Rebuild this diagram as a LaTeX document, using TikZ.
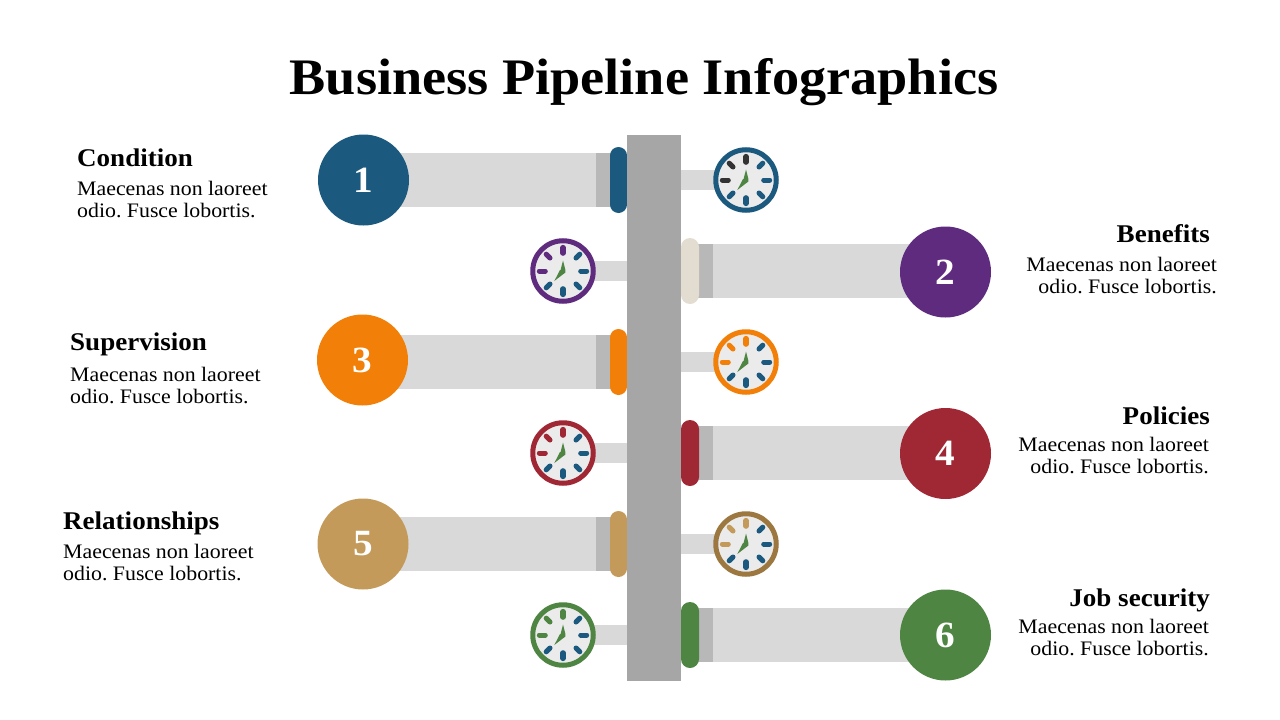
\documentclass[tikz,border=0pt]{standalone}
\usepackage{fontspec}
\setmainfont[FakeStretch=1.06]{Liberation Serif}
\definecolor{cblue}{HTML}{1B5A7E}
\definecolor{cpurple}{HTML}{5E2B7E}
\definecolor{corange}{HTML}{F28008}
\definecolor{cred}{HTML}{A02734}
\definecolor{ctan}{HTML}{C49A5A}
\definecolor{cbrown}{HTML}{9C7740}
\definecolor{cgreen}{HTML}{4F8542}
\definecolor{cbeige}{HTML}{E3DDD1}
\definecolor{cdark}{HTML}{333333}
\definecolor{bandlight}{HTML}{D9D9D9}
\definecolor{banddark}{HTML}{B8B8B8}
\definecolor{pillar}{HTML}{A6A6A6}
\definecolor{face}{HTML}{EBEBEB}
\tikzset{
  x=1pt,y=-1pt,
  titlelabel/.style={inner sep=0pt,font=\fontsize{25.5}{30}\selectfont\bfseries},
  bodylabel/.style={inner sep=0pt,font=\fontsize{20.6}{22}\selectfont\frenchspacing},
  numdisc/.style={circle,minimum size=91pt,inner sep=0pt,text=white,font=\fontsize{37}{40}\selectfont\bfseries},
  tickbig/.style={line width=5.6pt,line cap=round},
  ticksmall/.style={line width=5pt,line cap=round},
}
% clock: name, x, y, ring colour, accent colour
\newcommand{\clockdial}[5]{%
  \node[circle,draw=#4,fill=face,line width=5pt,minimum size=60.5pt,inner sep=0pt] (#1) at (#2,#3) {};
  \begin{scope}[shift={(#2,#3)}]
    \draw[tickbig,#5] (0,-18) -- (0,-23.3);
    \draw[tickbig,cblue] (0,18) -- (0,23.3);
    \draw[ticksmall,#5] (-17.7,0) -- (-23.7,0);
    \draw[ticksmall,cblue] (17.7,0) -- (23.7,0);
    \draw[ticksmall,#5] (-13,-13) -- (-16.8,-16.8);
    \draw[ticksmall,cblue] (13,-13) -- (16.8,-16.8);
    \draw[ticksmall,cblue] (-13,13) -- (-16.8,16.8);
    \draw[ticksmall,cblue] (13,13) -- (16.8,16.8);
    \fill[cgreen] (0,-10.5) -- (2.4,-1) -- (2.4,1.5) -- (-8.7,10) -- (-3,-1) -- (-2.4,-1) -- cycle;
  \end{scope}}
% left band at centre y, pill colour
\newcommand{\leftband}[2]{%
  \fill[bandlight] (363,#1-27) rectangle (597,#1+27);
  \fill[banddark] (596,#1-27) rectangle (611,#1+27);
  \fill[#2,rounded corners=8.5pt] (610,#1-33) rectangle (627,#1+33);}
\newcommand{\rightband}[2]{%
  \fill[bandlight] (712,#1-27) rectangle (945,#1+27);
  \fill[banddark] (698,#1-27) rectangle (713,#1+27);
  \fill[#2,rounded corners=9pt] (681,#1-33) rectangle (699,#1+33);}
\begin{document}
\begin{tikzpicture}
\useasboundingbox (0,0) rectangle (1280,720);
\fill[white] (0,0) rectangle (1280,720);
\node[inner sep=0pt,font=\fontsize{51.2}{60}\selectfont\bfseries] (title) at (644,82) {Business Pipeline Infographics};
% bands
\leftband{180}{cblue}
\leftband{362}{corange}
\leftband{544}{ctan}
\rightband{271}{cbeige}
\rightband{453}{cred}
\rightband{635}{cgreen}
% small connectors
\foreach \yy in {180,362,544} \fill[bandlight] (681,\yy-10) rectangle (725,\yy+10);
\foreach \yy in {271,453,635} \fill[bandlight] (585,\yy-10) rectangle (627,\yy+10);
% pillar
\fill[pillar] (627,135) rectangle (681,681);
% clocks
\clockdial{clockA}{746}{180}{cblue}{cdark}
\clockdial{clockB}{563}{271}{cpurple}{cpurple}
\clockdial{clockC}{746}{362}{corange}{corange}
\clockdial{clockD}{563}{453}{cred}{cred}
\clockdial{clockE}{746}{544}{cbrown}{ctan}
\clockdial{clockF}{563}{635}{cgreen}{cgreen}
% numbered discs
\node[numdisc,fill=cblue] (n1) at (363.5,180) {1};
\node[numdisc,fill=cpurple] (n2) at (945.5,272) {2};
\node[numdisc,fill=corange] (n3) at (362.5,360) {3};
\node[numdisc,fill=cred] (n4) at (945.5,453.5) {4};
\node[numdisc,fill=ctan] (n5) at (363,544) {5};
\node[numdisc,fill=cgreen] (n6) at (945.5,635) {6};
% labels
\node[titlelabel,anchor=base west] (t1) at (77,166) {Condition};
\node[bodylabel,anchor=west,align=left] (b1) at (77,199) {Maecenas non laoreet\\odio. Fusce lobortis.};
\node[titlelabel,anchor=base west] (t3) at (70,350) {Supervision};
\node[bodylabel,anchor=west,align=left] (b3) at (70,385) {Maecenas non laoreet\\odio. Fusce lobortis.};
\node[titlelabel,anchor=base west] (t5) at (63,529) {Relationships};
\node[bodylabel,anchor=west,align=left] (b5) at (63,562.5) {Maecenas non laoreet\\odio. Fusce lobortis.};
\node[titlelabel,anchor=base east] (t2) at (1210,242) {Benefits};
\node[bodylabel,anchor=east,align=right] (b2) at (1217,275.5) {Maecenas non laoreet\\odio. Fusce lobortis.};
\node[titlelabel,anchor=base east] (t4) at (1210,424) {Policies};
\node[bodylabel,anchor=east,align=right] (b4) at (1209,455) {Maecenas non laoreet\\odio. Fusce lobortis.};
\node[titlelabel,anchor=base east] (t6) at (1210,606) {Job security};
\node[bodylabel,anchor=east,align=right] (b6) at (1209,637) {Maecenas non laoreet\\odio. Fusce lobortis.};
\end{tikzpicture}
\end{document}
